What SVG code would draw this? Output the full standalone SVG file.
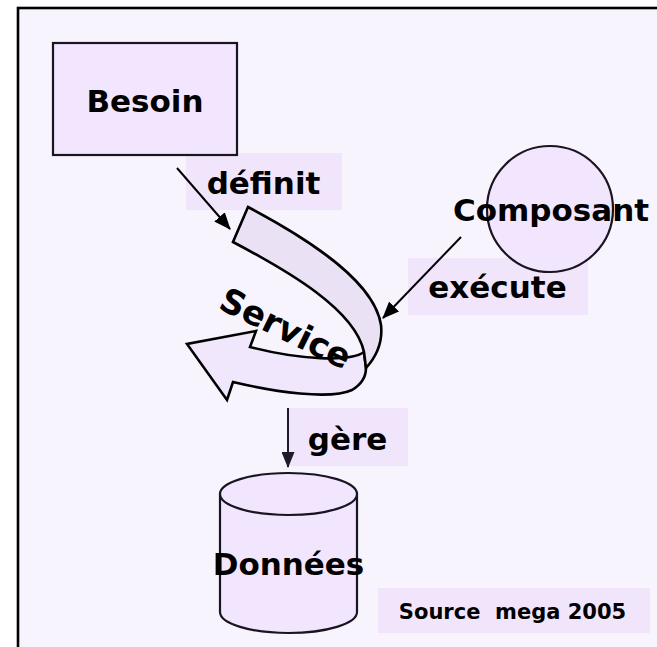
<svg xmlns="http://www.w3.org/2000/svg" width="657" height="647" viewBox="0 0 657 647">
  <style>
    .lbl { font-family: "DejaVu Sans", Verdana, sans-serif; font-weight: bold; fill: #000; }
    .big { font-size: 31px; text-anchor: middle; }
    .tagbg { fill: #f1e5fc; stroke: none; }
    .node { fill: #f1e6fd; stroke: #1a1420; stroke-width: 2.2; }
    .conn { stroke: #000; stroke-width: 2; fill: none; }
    .ribbon { stroke: #000; stroke-width: 2.6; stroke-linejoin: miter; }
  </style>
  <defs>
    <marker id="head" markerUnits="userSpaceOnUse" markerWidth="17" markerHeight="14" viewBox="0 0 17 14" refX="16" refY="7" orient="auto">
      <path d="M0,0 L17,7 L0,14 Z" fill="#000"/>
    </marker>
    <marker id="headDark" markerUnits="userSpaceOnUse" markerWidth="16" markerHeight="13" viewBox="0 0 16 13" refX="15" refY="6.5" orient="auto">
      <path d="M0,0 L16,6.5 L0,13 Z" fill="#1e1a2a"/>
    </marker>
  </defs>

  <!-- page -->
  <rect x="0" y="0" width="657" height="647" fill="#ffffff"/>
  <rect x="18" y="8" width="700" height="700" fill="#f7f4fe" stroke="#000" stroke-width="2.6"/>

  <!-- label backgrounds -->
  <rect class="tagbg" x="186" y="153" width="156" height="57"/>
  <rect class="tagbg" x="408" y="258" width="180" height="57"/>
  <rect class="tagbg" x="288" y="408" width="120" height="58"/>
  <rect class="tagbg" x="378" y="588" width="272" height="45"/>

  <g id="connectors">
    <line class="conn" x1="177" y1="168" x2="230" y2="229" marker-end="url(#head)"/>
    <line class="conn" x1="461" y1="237" x2="383" y2="318" marker-end="url(#head)"/>
    <line x1="288" y1="408" x2="288" y2="467" stroke="#1e1a2a" stroke-width="2" marker-end="url(#headDark)"/>
  </g>

  <g id="besoin">
    <rect class="node" x="53" y="43" width="184" height="112"/>
    <text class="lbl big" x="145" y="112">Besoin</text>
  </g>

  <g id="composant">
    <circle class="node" cx="550" cy="209" r="63"/>
    <text class="lbl big" x="551" y="221">Composant</text>
  </g>

  <g id="service">
    <!-- lower band running back to the left, ending in the arrowhead -->
    <path class="ribbon" fill="#f1e7fd" d="M364,352 C350,362 300,360 250,347 L256,331 L187,344 L227,400 L233,382 C275,392 330,400 352,390 C362,384 366,376 366,368 Z"/>
    <!-- upper band from the tail round the turn -->
    <path class="ribbon" fill="#ebe1f5" d="M248,207 C320,245 375,285 381,325 C383,343 375,358 366,368 L364,352 C355,310 290,272 233,242 Z"/>
    <text class="lbl" font-size="34" transform="translate(217,308) rotate(26)">Service</text>
  </g>

  <g id="donnees">
    <path class="node" d="M220,494 L220,612 A68.5,21 0 0 0 357,612 L357,494"/>
    <ellipse class="node" cx="288.5" cy="494" rx="68.5" ry="21"/>
    <text class="lbl big" x="288.5" y="575">Données</text>
  </g>

  <g id="labels">
    <text class="lbl big" x="263.5" y="194">définit</text>
    <text class="lbl big" x="497.5" y="298">exécute</text>
    <text class="lbl big" x="347.5" y="450">gère</text>
    <text class="lbl" font-size="21" text-anchor="middle" x="512.5" y="619" style="white-space: pre">Source  mega 2005</text>
  </g>
</svg>
